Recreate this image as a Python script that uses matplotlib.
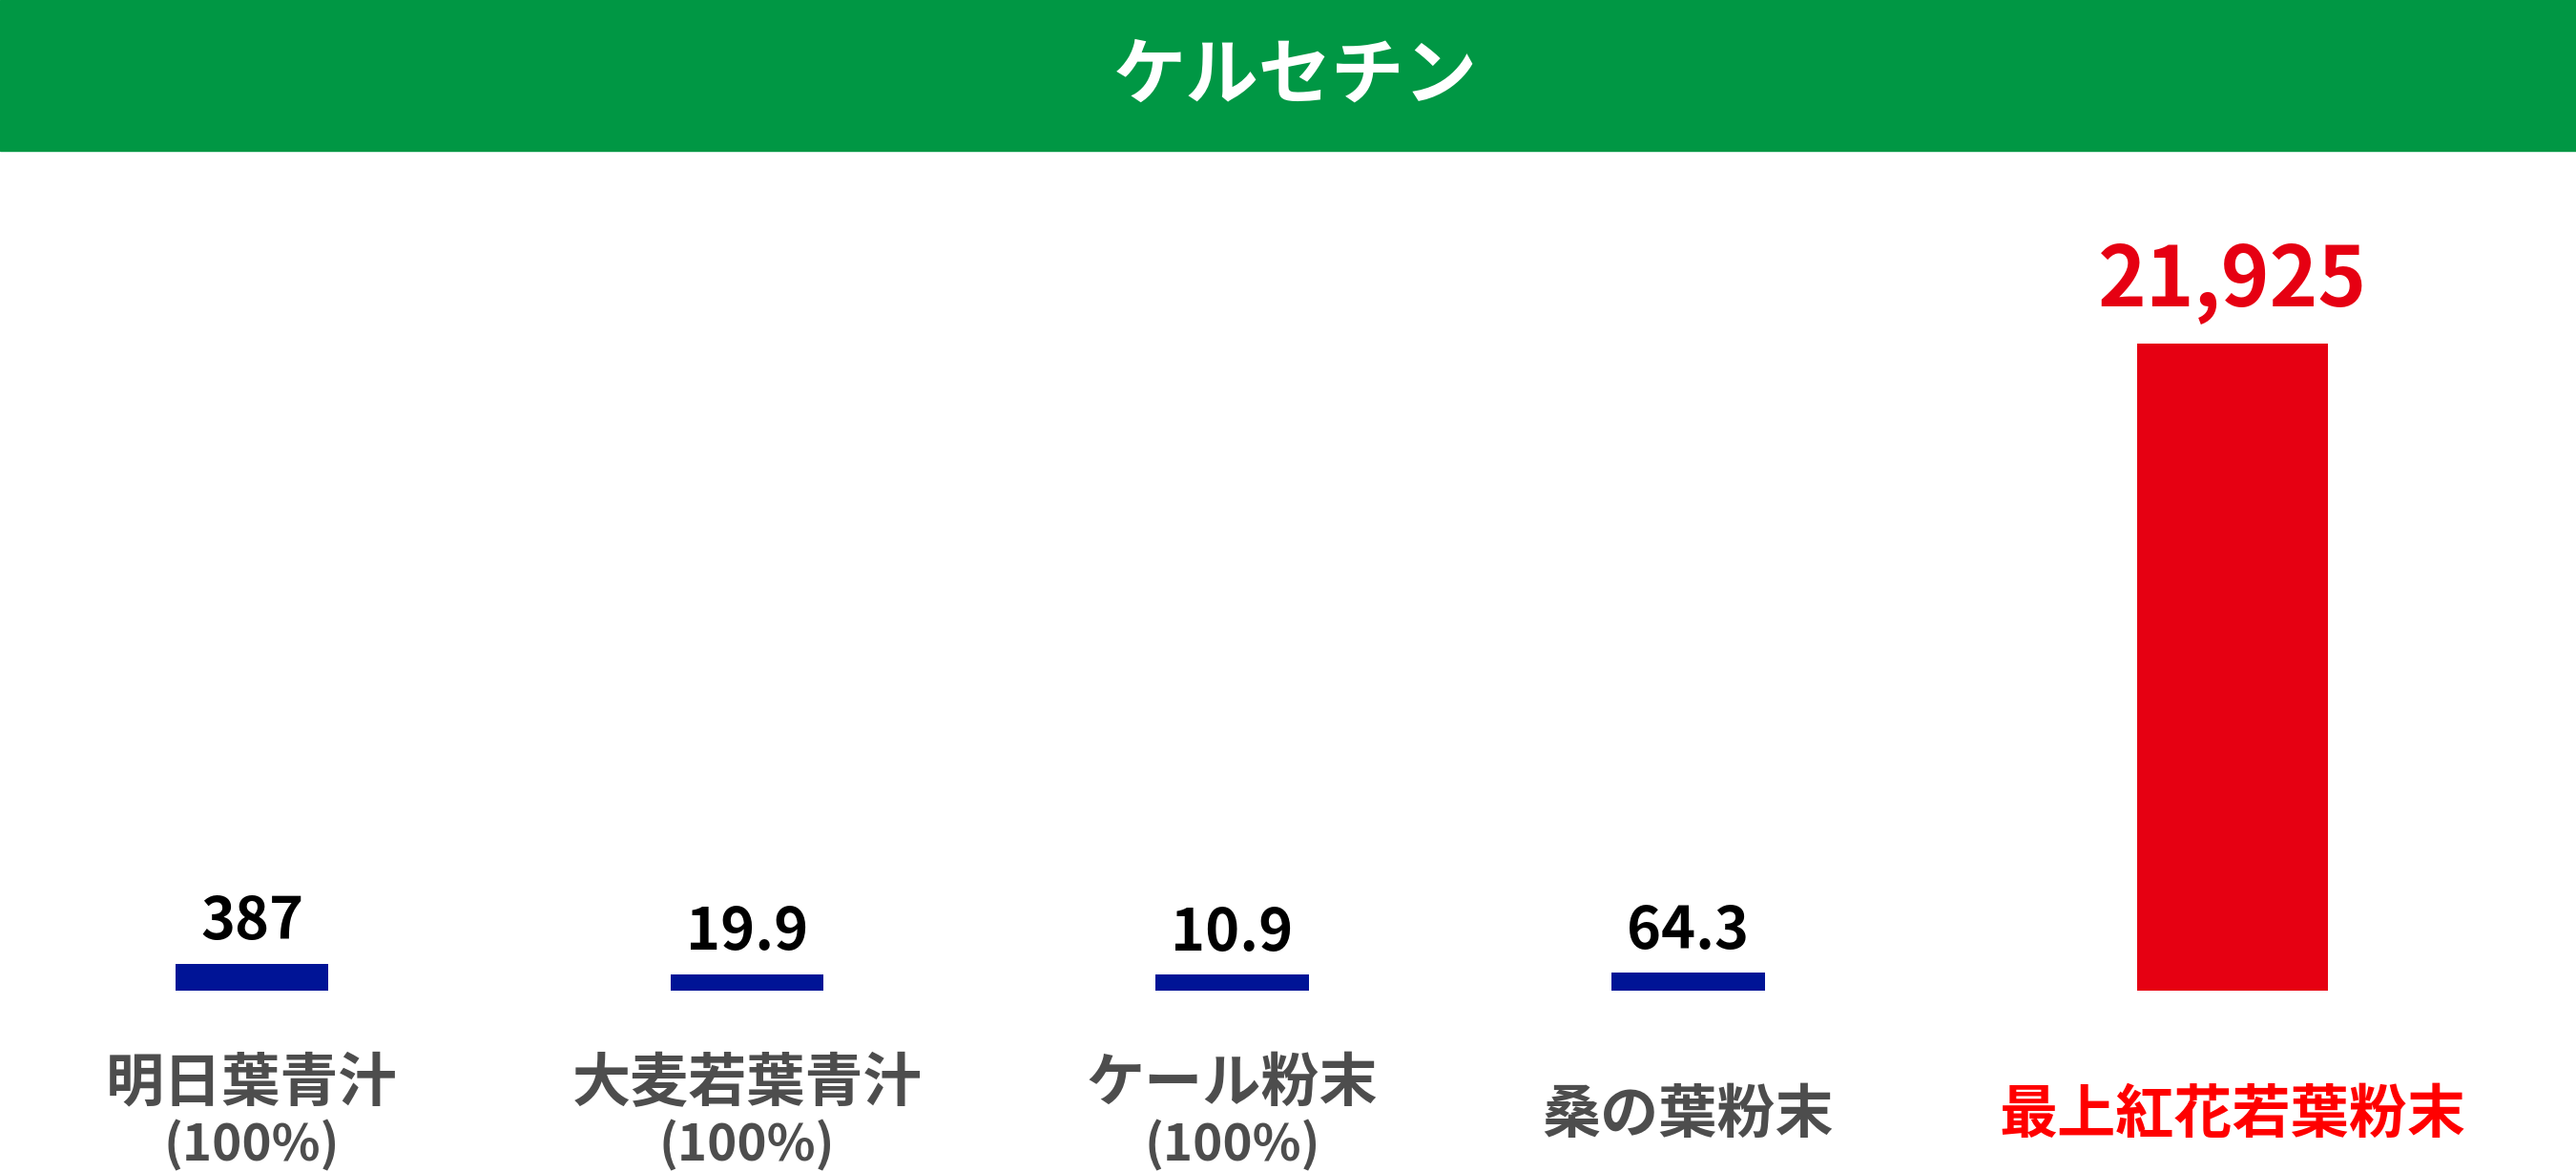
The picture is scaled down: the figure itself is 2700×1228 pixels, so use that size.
import matplotlib.pyplot as plt
import matplotlib.transforms as mtransforms
from matplotlib.patches import Rectangle

plt.rcParams['font.family'] = ['Noto Sans CJK JP', 'DejaVu Sans']

TITLE = 'ケルセチン'
categories = ['明日葉青汁', '大麦若葉青汁', 'ケール粉末', '桑の葉粉末', '最上紅花若葉粉末']
sub_labels = ['(100%)', '(100%)', '(100%)', '', '']
values = [387, 19.9, 10.9, 64.3, 21925]
value_labels = ['387', '19.9', '10.9', '64.3', '21,925']

# layout / style
x_pos = [0, 1, 1.98, 2.9, 4]
bar_w = [0.31, 0.31, 0.31, 0.31, 0.385]
bar_colors = ['#001496', '#001496', '#001496', '#001496', '#E60012']
label_colors = ['#4D4D4D', '#4D4D4D', '#4D4D4D', '#4D4D4D', '#FF0000']
MIN_VIS = 550  # keeps the tiny values visible as a stub

W, H = 2700, 1228
fig = plt.figure(figsize=(W / 100, H / 100), dpi=100)

# green header band
hdr = 158
fig.patches.append(Rectangle((0, 1 - hdr / H), 1, hdr / H, transform=fig.transFigure,
                             color='#009744', zorder=0))
fig.text(1358 / W, 1 - 80 / H, TITLE, color='white', fontsize=55, fontweight='bold',
         ha='center', va='center')

# bars axes: baseline at 1038px, red bar top at 360px
base_px, top_px = 1038, 360
left_px, step_px = 264, 519
ax = fig.add_axes([(left_px - 0.5 * step_px) / W, (H - base_px) / H,
                   5 * step_px / W, (base_px - top_px) / H])
ax.set_xlim(-0.5, 4.5)
ax.set_ylim(0, max(values) + MIN_VIS)
ax.axis('off')

heights = [v + MIN_VIS for v in values]
ax.bar(x_pos, heights, width=bar_w, color=bar_colors)

for i, (x, h) in enumerate(zip(x_pos, heights)):
    big = i == len(values) - 1
    ax.annotate(value_labels[i], (x, h), xytext=(0, 15 if big else 9),
                textcoords='offset points', ha='center', va='bottom',
                fontsize=62 if big else 44, fontweight='bold',
                color='#E60012' if big else 'black', annotation_clip=False)

trans = mtransforms.blended_transform_factory(ax.transData, fig.transFigure)
for x, lab, sub, c in zip(x_pos, categories, sub_labels, label_colors):
    y1 = 1136 if sub else 1169
    ax.text(x, (H - y1) / H, lab, transform=trans, ha='center', va='center',
            fontsize=44, fontweight='bold', color=c, clip_on=False)
    if sub:
        ax.text(x, (H - 1200) / H, sub, transform=trans, ha='center', va='center',
                fontsize=38, fontweight='bold', color=c, clip_on=False)

fig.savefig('out.png', dpi=100, facecolor='white')
